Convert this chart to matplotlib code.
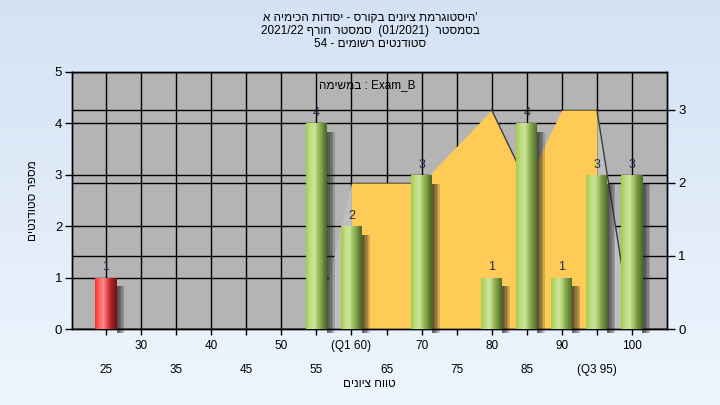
import numpy as np
import matplotlib
matplotlib.use('Agg')
import matplotlib.pyplot as plt
from matplotlib.colors import LinearSegmentedColormap

plt.rcParams['font.family'] = ['Liberation Sans', 'DejaVu Sans']

# data
grades = [25, 30, 35, 40, 45, 50, 55, 60, 65, 70, 75, 80, 85, 90, 95, 100]
counts = [1, 0, 0, 0, 0, 0, 4, 2, 0, 3, 0, 1, 4, 1, 3, 3]
tick_labels = ['25', '30', '35', '40', '45', '50', '55', '(Q1 60)', '65', '70',
               '75', '80', '85', '90', '(Q3 95)', '100']
# second series (right axis), nan = no point
area_vals = [np.nan, np.nan, np.nan, np.nan, np.nan, np.nan, 0, 2, 2, 2, 2.5, 3, 2, 3, 3, 0]
pass_grade = 55

# hebrew strings in visual order (matplotlib has no bidi)
title1 = "היסטוגרמת ציונים בקורס - יסודות הכימיה א"[::-1] + "'"
title2 = "2021/22 " + "סמסטר חורף"[::-1] + "  (01/2021)  " + "בסמסטר"[::-1]
title3 = "54 - " + "סטודנטים רשומים"[::-1]
note = "במשימה"[::-1] + " : Exam_B"
xlab = "טווח ציונים"[::-1]
ylab = "מספר סטודנטים"[::-1]

fig = plt.figure(figsize=(7.2, 4.05), dpi=100)

# background gradient
bg = fig.add_axes([0, 0, 1, 1], zorder=-10)
grad = np.linspace(0, 1, 256).reshape(-1, 1)
bg.imshow(grad, aspect='auto', extent=(0, 1, 0, 1),
          cmap=LinearSegmentedColormap.from_list('bg', ['#d4e2f4', '#eef5fd']))
bg.axis('off')

x = np.arange(len(grades))

# bottom axes: right scale, gray background, grid, area
ax = fig.add_axes([72/720, 76/405, 595/720, 257/405])
ax.set_facecolor('#b4b4b4')
axl = ax.twinx()
ax.yaxis.tick_right()
axl.yaxis.tick_left()
axl.yaxis.set_label_position('left')

ax.set_xlim(-0.97, 16.0)
ax.set_ylim(0, 3.52)
axl.set_ylim(0, 5)

# gridlines (both scales) under the area
ax.set_yticks([0, 1, 2, 3])
ax.grid(True, axis='y', color='black', lw=1, zorder=0)
ax.hlines(range(0, 6), -0.97, 16.0, colors='black', lw=1, transform=axl.transData, zorder=0.5)
ax.set_xticks(x[1::2])
ax.set_xticklabels(tick_labels[1::2])
ax.set_xticks(x[0::2], minor=True)
ax.set_xticklabels(tick_labels[0::2], minor=True)
ax.grid(True, axis='x', which='both', color='black', lw=1, zorder=0)
ax.set_axisbelow(True)

av = np.array(area_vals, dtype=float)
ok = ~np.isnan(av)
first = np.argmax(ok)
last = len(av) - 1 - np.argmax(ok[::-1])
# edges to the empty points drawn light gray, body yellow
ax.fill_between(x[first:first + 2], av[first:first + 2], color='#bfbfbf', lw=0, zorder=1)
ax.fill_between(x[last - 1:last + 1], av[last - 1:last + 1], color='#bfbfbf', lw=0, zorder=1)
ax.fill_between(x[first + 1:last], av[first + 1:last], color='#ffcb57', lw=0, zorder=1.2)
for i in range(first + 1, last):
    if av[i + 1] < av[i]:
        ax.plot(x[i:i + 2], av[i:i + 2], color='#3c3c3c', lw=1, zorder=1.5)

# cylinder bars
green = ['#a2cc48', '#bfdc80', '#c9e39a', '#9dbd5e', '#6f8f3e', '#4b6828']
red = ['#ff2a2a', '#ff6a6a', '#ff8a8a', '#d83a3a', '#a02020', '#6e1212']
w = 0.6
n = 24
for xi, g, c in zip(x, grades, counts):
    if c == 0:
        continue
    cmap = LinearSegmentedColormap.from_list('cyl', red if g < pass_grade else green)
    # shadow
    for k in range(5):
        axl.bar(xi + w / 2, c - 0.1, bottom=-0.07, width=0.22 * (k + 1) / 5, align='edge',
                color='#202020', alpha=0.2, lw=0, zorder=2, clip_on=False)
    edges = np.linspace(xi - w / 2, xi + w / 2, n + 1)
    for j in range(n):
        axl.bar(edges[j], c, width=edges[j + 1] - edges[j] + 0.002, align='edge',
                color=cmap((j + 0.5) / n), lw=0, zorder=3)
    axl.annotate(str(c), (xi, c), xytext=(0, 3), textcoords='offset points',
                 ha='center', va='bottom', fontsize=9, color='#1c2a48', zorder=4)

axl.set_yticks(range(0, 6))

for a in (ax, axl):
    for s in a.spines.values():
        s.set_color('black')
        s.set_linewidth(1)

ax.tick_params(axis='x', which='both', direction='out', length=4, width=1, labelsize=8.5)
ax.tick_params(axis='x', which='major', pad=4)
ax.tick_params(axis='x', which='minor', pad=21)
ax.tick_params(axis='y', direction='out', length=6, width=1, labelsize=9.5, pad=2)
axl.tick_params(axis='y', direction='out', length=5, width=1, labelsize=9.5, pad=2)

axl.set_ylabel(ylab, fontsize=8.5)
axl.yaxis.set_label_coords(-0.055, 0.5)
ax.set_xlabel(xlab, fontsize=8.5)
ax.xaxis.set_label_coords(0.5, -0.19)

ax.text(0.496, 0.949, note, transform=ax.transAxes, ha='center', va='center',
        fontsize=8.5, zorder=5)

for yy, t in zip([18, 31, 44], [title1, title2, title3]):
    fig.text(370 / 720, 1 - yy / 405, t, ha='center', va='center', fontsize=8.5)

fig.savefig('out.png', dpi=100)
